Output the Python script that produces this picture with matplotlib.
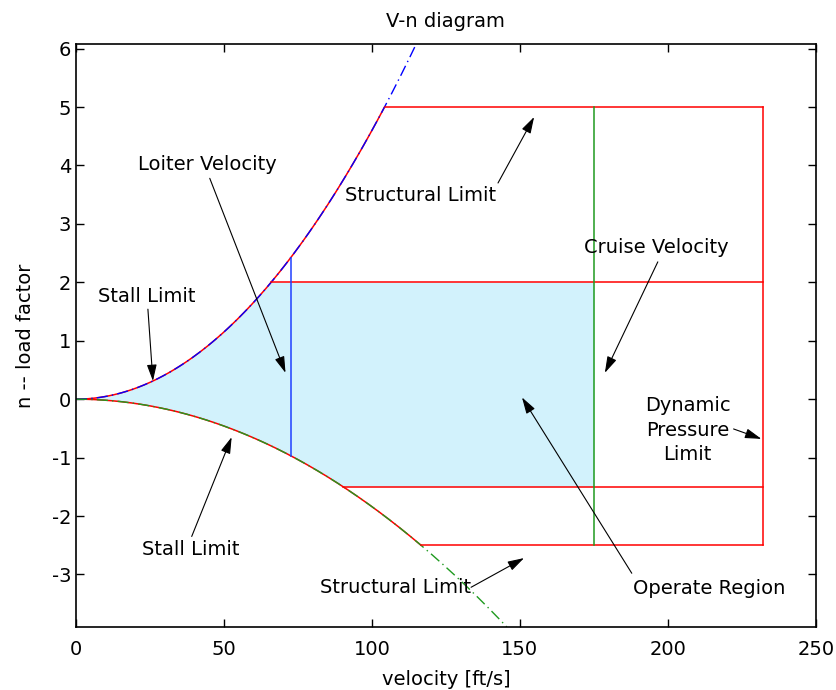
import numpy as np
import matplotlib
matplotlib.use('Agg')
import matplotlib.pyplot as plt

plt.rcParams['font.family'] = ['DejaVu Sans']
plt.rcParams['axes.unicode_minus'] = False

# stall curve coefficients n = +/- k V^2
k_pos = 4.6e-4
k_neg = 1.84e-4

# limits
n_struct_pos = 5.0
n_struct_neg = -2.5
n_oper_pos = 2.0
n_oper_neg = -1.5
v_loiter = 72.5
v_cruise = 175.0
v_dive = 232.0

x_min, x_max = 0, 250
y_min, y_max = -3.9, 6.08

fig = plt.figure(figsize=(8.36, 6.90), dpi=100)
ax = fig.add_axes([0.0909, 0.0913, 0.885, 0.845])

# full stall curves (dash-dot), clipped by the axes
v_up = np.linspace(0, np.sqrt(y_max / k_pos), 300)
v_dn = np.linspace(0, np.sqrt(-y_min / k_neg), 300)

# operating envelope shading
v_fill = np.linspace(0, v_cruise, 400)
upper = np.minimum(k_pos * v_fill**2, n_oper_pos)
lower = np.maximum(-k_neg * v_fill**2, n_oper_neg)
ax.fill_between(v_fill, lower, upper, color='#d2f2fc', lw=0)

# stall limit curves up to the structural limits
v_s_pos = np.sqrt(n_struct_pos / k_pos)
v_s_neg = np.sqrt(-n_struct_neg / k_neg)
vv = np.linspace(0, v_s_pos, 300)
ax.plot(vv, k_pos * vv**2, color='red', lw=1.1)
vv = np.linspace(0, v_s_neg, 300)
ax.plot(vv, -k_neg * vv**2, color='red', lw=1.1)

ax.plot(v_up, k_pos * v_up**2, color='blue', lw=1.0, dashes=(8, 3, 1, 3))
ax.plot(v_dn, -k_neg * v_dn**2, color='#1f9a1f', lw=1.0, dashes=(8, 3, 1, 3))

# horizontal limit lines
for n_lim in [n_struct_pos, n_oper_pos]:
    ax.plot([np.sqrt(n_lim / k_pos), v_dive], [n_lim, n_lim], color='red', lw=1.1)
for n_lim in [n_oper_neg, n_struct_neg]:
    ax.plot([np.sqrt(-n_lim / k_neg), v_dive], [n_lim, n_lim], color='red', lw=1.1)

# dynamic pressure limit
ax.plot([v_dive, v_dive], [n_struct_neg, n_struct_pos], color='red', lw=1.1)

# loiter and cruise velocity lines
ax.plot([v_loiter, v_loiter], [-k_neg * v_loiter**2, k_pos * v_loiter**2],
        color='#2040ff', lw=1.1)
ax.plot([v_cruise, v_cruise], [n_struct_neg, n_struct_pos], color='#1f9a1f', lw=1.1)

# annotations: (text, text position, arrow start, arrow tip)
notes = [
    ('Loiter Velocity', (44.5, 4.02), (45.2, 3.78), (70.8, 0.45)),
    ('Stall Limit', (23.9, 1.76), (24.3, 1.54), (26.0, 0.31)),
    ('Stall Limit', (38.8, -2.57), (39.1, -2.35), (52.6, -0.65)),
    ('Structural Limit', (116.3, 3.48), (142.6, 3.70), (154.8, 4.83)),
    ('Cruise Velocity', (196.2, 2.59), (196.6, 2.35), (178.7, 0.45)),
    ('Dynamic\nPressure\nLimit', (206.7, -0.53), (222.2, -0.51), (231.6, -0.68)),
    ('Structural Limit', (107.9, -3.22), (133.5, -3.22), (151.4, -2.72)),
    ('Operate Region', (214.1, -3.24), (187.8, -2.98), (150.7, 0.03)),
]
for label, pos, start, tip in notes:
    ax.text(pos[0], pos[1], label, ha='center', va='center', fontsize=14,
            linespacing=1.35)
    ax.annotate('', xy=tip, xytext=start,
                arrowprops=dict(arrowstyle='-|>,head_length=1.0,head_width=0.3',
                                color='black', lw=0.8, shrinkA=0, shrinkB=0))

ax.set_xlim(x_min, x_max)
ax.set_ylim(y_min, y_max)
ax.set_xticks([0, 50, 100, 150, 200, 250])
ax.set_yticks([-3, -2, -1, 0, 1, 2, 3, 4, 5, 6])
ax.tick_params(direction='in', top=True, right=True, length=6, width=1,
               labelsize=14)
ax.tick_params(axis='x', pad=9)
for s in ax.spines.values():
    s.set_linewidth(1.2)

ax.set_title('V-n diagram', fontsize=14, pad=12)
ax.set_xlabel('velocity [ft/s]', fontsize=14, labelpad=8)
ax.set_ylabel('n -- load factor', fontsize=14, labelpad=12)

fig.savefig('out.png', dpi=100)
